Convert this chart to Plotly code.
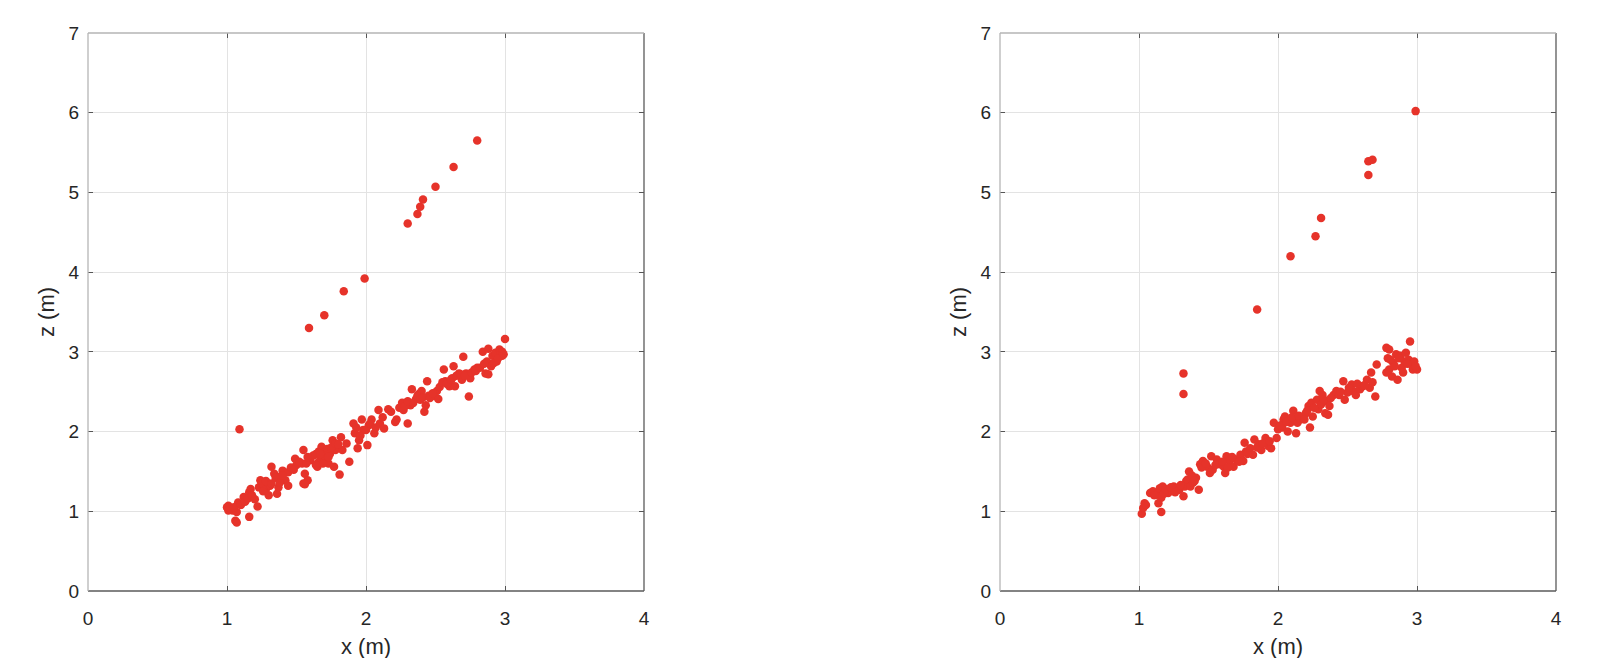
import plotly.graph_objects as go

# ---------------- data ----------------
left_x = [1.01, 1.04, 1.07, 1.01, 1.00, 1.02, 1.06, 1.07, 1.16, 1.22, 1.08, 1.12, 1.16, 1.17, 1.23, 1.25,
          1.28, 1.24, 1.31, 1.30, 1.36, 1.37, 1.32, 1.34, 1.38, 1.40, 1.42, 1.44, 1.44, 1.49, 1.50, 1.55,
          1.56, 1.55, 1.58, 1.54, 1.60, 1.64, 1.65, 1.66, 1.68, 1.71, 1.73, 1.74, 1.76, 1.78, 1.77, 1.81,
          1.82, 1.83, 1.86, 1.88, 1.91, 1.92, 1.94, 1.95, 1.97, 1.98, 2.01, 2.02, 2.04, 2.06, 2.09, 2.10,
          2.13, 2.16, 2.21, 2.22, 2.26, 2.27, 2.30, 2.32, 2.33, 2.36, 2.38, 2.40, 2.42, 2.43, 2.44, 2.45,
          2.49, 2.51, 2.52, 2.56, 2.57, 2.60, 2.62, 2.63, 2.64, 2.67, 2.70, 2.69, 2.72, 2.74, 2.75, 2.78,
          2.80, 2.84, 2.86, 2.87, 2.88, 2.90, 2.91, 2.93, 2.94, 2.96, 2.97, 2.98, 3.00,
          1.62, 1.66, 1.68, 1.70, 1.72, 1.69, 1.64, 1.75, 1.70, 1.67, 1.73, 1.78, 1.80,
          1.05, 1.10, 1.13, 1.15, 1.18, 1.20, 1.26, 1.28, 1.32, 1.35, 1.38, 1.40, 1.46, 1.48, 1.52, 1.57,
          1.58, 1.56, 1.93, 1.96, 2.00, 2.03, 2.07, 2.12, 2.18, 2.24, 2.28, 2.30, 2.34, 2.37, 2.39, 2.41,
          2.46, 2.48, 2.53, 2.55, 2.58, 2.61, 2.65, 2.68, 2.71, 2.76, 2.79, 2.82, 2.85, 2.88, 2.92, 2.95,
          2.98, 2.99,
          1.09, 1.59, 1.70, 1.84, 1.99, 2.30, 2.37, 2.39, 2.41, 2.50, 2.63, 2.80]
left_z = [1.07, 1.01, 0.99, 1.01, 1.05, 1.04, 0.88, 0.86, 0.93, 1.06, 1.11, 1.18, 1.24, 1.28, 1.30, 1.35,
          1.28, 1.39, 1.32, 1.20, 1.22, 1.30, 1.56, 1.47, 1.43, 1.51, 1.39, 1.32, 1.49, 1.66, 1.58, 1.77,
          1.47, 1.35, 1.39, 1.60, 1.64, 1.72, 1.56, 1.75, 1.81, 1.68, 1.60, 1.72, 1.89, 1.77, 1.56, 1.46,
          1.93, 1.77, 1.85, 1.62, 2.10, 1.98, 1.79, 1.89, 2.15, 2.02, 1.83, 2.08, 2.15, 1.98, 2.27, 2.10,
          2.04, 2.28, 2.12, 2.15, 2.36, 2.27, 2.10, 2.33, 2.53, 2.41, 2.47, 2.51, 2.25, 2.33, 2.63, 2.45,
          2.45, 2.51, 2.41, 2.78, 2.63, 2.57, 2.67, 2.82, 2.57, 2.73, 2.94, 2.65, 2.73, 2.44, 2.67, 2.78,
          2.80, 3.00, 2.73, 2.88, 3.04, 2.82, 2.95, 2.99, 2.88, 3.03, 2.99, 2.95, 3.16,
          1.70, 1.62, 1.66, 1.74, 1.78, 1.60, 1.58, 1.80, 1.70, 1.72, 1.68, 1.85, 1.84,
          1.05, 1.08, 1.12, 1.16, 1.20, 1.15, 1.25, 1.38, 1.35, 1.42, 1.36, 1.45, 1.55, 1.52, 1.62, 1.60,
          1.68, 1.34, 2.05, 1.95, 2.02, 2.10, 2.05, 2.18, 2.25, 2.30, 2.32, 2.38, 2.36, 2.45, 2.40, 2.43,
          2.42, 2.48, 2.56, 2.62, 2.60, 2.65, 2.70, 2.72, 2.70, 2.74, 2.76, 2.80, 2.85, 2.72, 2.86, 2.92,
          3.00, 2.97,
          2.03, 3.30, 3.46, 3.76, 3.92, 4.61, 4.73, 4.82, 4.91, 5.07, 5.32, 5.65]

right_x = [1.02, 1.04, 1.03, 1.16, 1.08, 1.10, 1.13, 1.15, 1.17, 1.20, 1.22, 1.25, 1.27, 1.14, 1.16, 1.21,
           1.29, 1.32, 1.33, 1.34, 1.36, 1.35, 1.37, 1.39, 1.41, 1.43, 1.44, 1.46, 1.49, 1.51, 1.52, 1.53,
           1.56, 1.58, 1.61, 1.62, 1.63, 1.65, 1.68, 1.70, 1.73, 1.75, 1.76, 1.77, 1.80, 1.82, 1.83, 1.86,
           1.88, 1.91, 1.93, 1.95, 1.97, 1.99, 2.00, 2.03, 2.04, 2.05, 2.07, 2.09, 2.11, 2.12, 2.13, 2.14,
           2.16, 2.18, 2.20, 2.22, 2.23, 2.24, 2.25, 2.28, 2.29, 2.30, 2.31, 2.32, 2.34, 2.35, 2.36, 2.37,
           2.40, 2.42, 2.44, 2.47, 2.48, 2.50, 2.53, 2.54, 2.56, 2.59, 2.61, 2.64, 2.66, 2.67, 2.70, 2.71,
           2.78, 2.79, 2.80, 2.82, 2.83, 2.85, 2.86, 2.88, 2.89, 2.90, 2.91, 2.92, 2.94, 2.95, 2.96, 2.97,
           2.98, 3.00, 2.78, 2.80,
           1.05, 1.11, 1.18, 1.19, 1.23, 1.26, 1.30, 1.38, 1.40, 1.45, 1.48, 1.55, 1.60, 1.64, 1.67, 1.72,
           1.78, 1.85, 1.89, 1.94, 2.02, 2.06, 2.10, 2.15, 2.19, 2.21, 2.26, 2.33, 2.38, 2.45, 2.51, 2.57,
           2.62, 2.68, 2.81, 2.84, 2.87, 2.93, 2.99,
           1.32, 1.32, 1.85, 2.09, 2.27, 2.31, 2.65, 2.65, 2.68, 2.99]
right_z = [0.97, 1.10, 1.04, 0.99, 1.23, 1.25, 1.21, 1.29, 1.31, 1.27, 1.25, 1.31, 1.29, 1.10, 1.17, 1.23,
           1.27, 1.19, 1.31, 1.38, 1.50, 1.40, 1.31, 1.36, 1.42, 1.27, 1.59, 1.63, 1.56, 1.48, 1.69, 1.52,
           1.65, 1.59, 1.56, 1.48, 1.69, 1.63, 1.56, 1.65, 1.71, 1.63, 1.86, 1.75, 1.79, 1.71, 1.90, 1.84,
           1.77, 1.92, 1.82, 1.79, 2.11, 1.92, 2.03, 2.05, 2.15, 2.19, 2.00, 2.11, 2.26, 2.15, 1.98, 2.11,
           2.15, 2.17, 2.23, 2.32, 2.05, 2.36, 2.19, 2.40, 2.28, 2.51, 2.34, 2.46, 2.23, 2.38, 2.21, 2.32,
           2.46, 2.51, 2.46, 2.63, 2.40, 2.49, 2.59, 2.51, 2.46, 2.53, 2.57, 2.65, 2.55, 2.74, 2.44, 2.84,
           3.05, 2.92, 2.78, 2.69, 2.86, 2.97, 2.65, 2.95, 2.80, 2.74, 2.88, 2.99, 2.90, 3.13, 2.84, 2.78,
           2.88, 2.78, 2.74, 3.03,
           1.08, 1.20, 1.22, 1.28, 1.30, 1.24, 1.33, 1.45, 1.38, 1.55, 1.60, 1.58, 1.62, 1.55, 1.68, 1.62,
           1.72, 1.80, 1.85, 1.88, 2.08, 2.12, 2.18, 2.20, 2.15, 2.26, 2.30, 2.40, 2.42, 2.50, 2.55, 2.60,
           2.58, 2.62, 2.90, 2.82, 2.92, 2.85, 2.82,
           2.73, 2.47, 3.53, 4.20, 4.45, 4.68, 5.22, 5.39, 5.41, 6.02]

x_ticks = [0, 1, 2, 3, 4]
z_ticks = [0, 1, 2, 3, 4, 5, 6, 7]
x_title = "x (m)"
z_title = "z (m)"

# ---------------- styling ----------------
RED = "#e6332a"
TXT = "#262626"
GRID = "#e3e3e3"
FONT = "Liberation Sans, Arial, sans-serif"

# The page body has an 8 px margin; the figure is sized so it fits the window exactly.
OFF = 8
W, H = 1602 - 2 * OFF, 666 - 2 * OFF
top_px, bot_px = 33 - OFF, 591 - OFF
dom_y = [1 - bot_px / H, 1 - top_px / H]
dom_left = [(88 - OFF) / W, (644 - OFF) / W]
dom_right = [(1000 - OFF) / W, (1556 - OFF) / W]

fig = go.Figure()
fig.add_trace(go.Scatter(x=left_x, y=left_z, mode="markers", xaxis="x", yaxis="y",
                         marker=dict(color=RED, size=8.5, line=dict(width=0)), showlegend=False))
fig.add_trace(go.Scatter(x=right_x, y=right_z, mode="markers", xaxis="x2", yaxis="y2",
                         marker=dict(color=RED, size=8.5, line=dict(width=0)), showlegend=False))

def xax(domain, anchor):
    return dict(domain=domain, anchor=anchor, range=[0, 4], tickvals=x_ticks,
                showgrid=True, gridcolor=GRID, gridwidth=1, zeroline=False,
                showline=False, ticks="inside", ticklen=5, tickcolor="#555555",
                mirror="ticks", tickfont=dict(family=FONT, size=19, color=TXT),
                ticklabelstandoff=14, fixedrange=True, automargin=False)

def yax(anchor):
    return dict(domain=dom_y, anchor=anchor, range=[0, 7], tickvals=z_ticks,
                showgrid=True, gridcolor=GRID, gridwidth=1, zeroline=False,
                showline=False, ticks="inside", ticklen=5, tickcolor="#555555",
                mirror="ticks", tickfont=dict(family=FONT, size=19, color=TXT),
                ticklabelstandoff=8, fixedrange=True, automargin=False)

shapes = []
for xr, yr in (("x domain", "y domain"), ("x2 domain", "y2 domain")):
    # bottom and right darker, top and left lighter (as in the reference)
    shapes.append(dict(type="line", xref=xr, yref=yr, x0=0, x1=1, y0=0, y1=0,
                       line=dict(color="#5a5a5a", width=1.3)))
    shapes.append(dict(type="line", xref=xr, yref=yr, x0=1, x1=1, y0=0, y1=1,
                       line=dict(color="#5a5a5a", width=1.3)))
    shapes.append(dict(type="line", xref=xr, yref=yr, x0=0, x1=1, y0=1, y1=1,
                       line=dict(color="#b5b5b5", width=1.3)))
    shapes.append(dict(type="line", xref=xr, yref=yr, x0=0, x1=0, y0=0, y1=1,
                       line=dict(color="#b5b5b5", width=1.3)))

annotations = []
for dom in (dom_left, dom_right):
    cx = (dom[0] + dom[1]) / 2
    annotations.append(dict(text=x_title, xref="paper", yref="paper", x=cx, y=1 - (646 - OFF) / H,
                            xanchor="center", yanchor="middle", showarrow=False,
                            font=dict(family=FONT, size=22, color=TXT)))
    annotations.append(dict(text=z_title, xref="paper", yref="paper", x=dom[0] - 41 / W,
                            y=(dom_y[0] + dom_y[1]) / 2, xanchor="center", yanchor="middle",
                            textangle=-90, showarrow=False,
                            font=dict(family=FONT, size=22, color=TXT)))

fig.update_layout(
    template="none",
    width=W, height=H, autosize=False,
    margin=dict(l=0, r=0, t=0, b=0),
    paper_bgcolor="white", plot_bgcolor="white",
    xaxis=xax(dom_left, "y"), yaxis=yax("x"),
    xaxis2=xax(dom_right, "y2"), yaxis2=yax("x2"),
    shapes=shapes, annotations=annotations,
)

fig.write_html("out.html", config={"displayModeBar": False})
